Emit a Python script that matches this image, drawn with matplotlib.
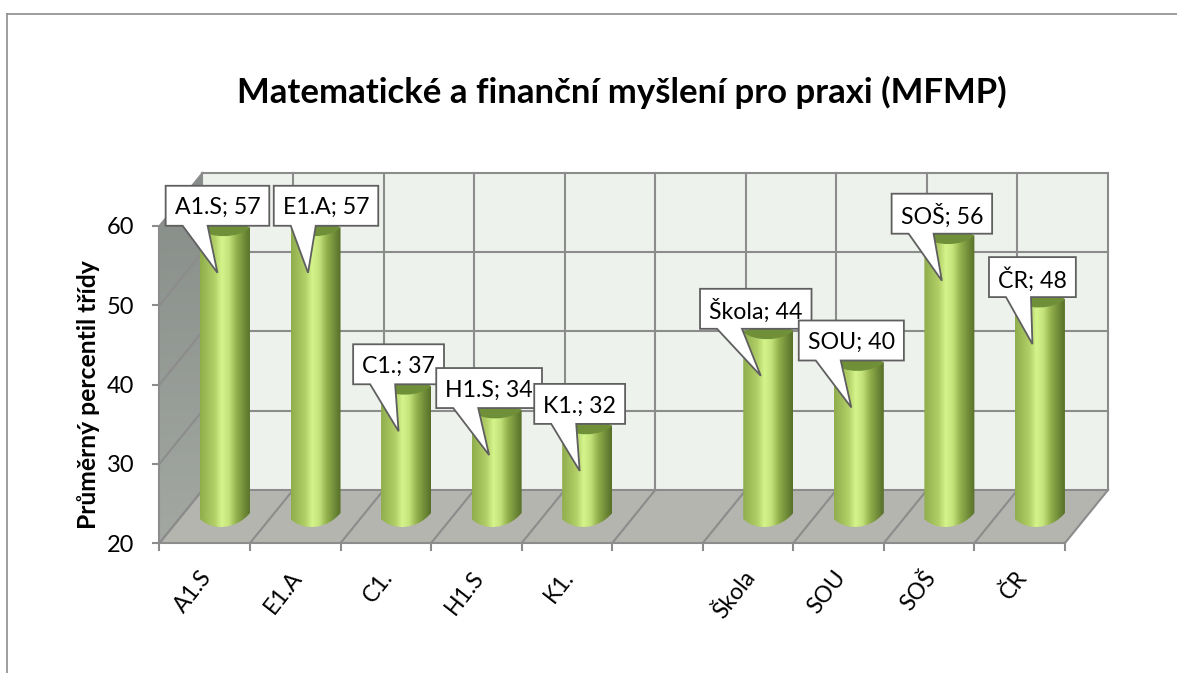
import matplotlib
matplotlib.use("Agg")
import matplotlib.pyplot as plt
from matplotlib.colors import LinearSegmentedColormap
from matplotlib.lines import Line2D
from matplotlib.patches import PathPatch, Polygon
from matplotlib.path import Path
from matplotlib.transforms import ScaledTranslation
import numpy as np

plt.rcParams['font.family'] = ['Lato', 'DejaVu Sans']

# the empty slot separates the classes from the school types
categories = ["A1.S", "E1.A", "C1.", "H1.S", "K1.", "", "Škola", "SOU", "SOŠ", "ČR"]
percentil = [57, 57, 37, 34, 32, np.nan, 44, 40, 56, 48]
yticks = [20, 30, 40, 50, 60]
title = "Matematické a finanční myšlení pro praxi (MFMP)"
ylabel = "Průměrný percentil třídy"

# pixels per data unit, used for the fake 3d offsets
W, H = 1177, 673
left, right, bottom, top = 159.5, 1065, 543, 226
sx = (right - left) / len(categories)
sy = (bottom - top) / (yticks[-1] - yticks[0])
dx = 43 / sx
dy = 53 / sy

fig = plt.figure(figsize=(W / 100, H / 100), dpi=100, facecolor="white")
ax = fig.add_axes([left / W, 1 - bottom / H, (right - left) / W, (bottom - top) / H])
ax.patch.set_visible(False)

line_col = "#8c8c8c"
n = len(categories)
y0, y1 = yticks[0], yticks[-1]


def gradient(colors, path, extent, z, horizontal=True):
    cmap = LinearSegmentedColormap.from_list("g", colors)
    ramp = np.linspace(0, 1, 256)
    ramp = ramp[None, :] if horizontal else ramp[:, None]
    im = ax.imshow(ramp, cmap=cmap, extent=extent, aspect="auto", zorder=z, origin="upper")
    im.set_clip_box(fig.bbox)
    im.set_clip_path(path, ax.transData)


# walls and floor
ax.add_patch(Polygon([(dx, y0 + dy), (n + dx, y0 + dy), (n + dx, y1 + dy), (dx, y1 + dy)],
                     fc="#eef2ec", ec="none", clip_on=False, zorder=1))
ax.add_patch(Polygon([(0, y0), (n, y0), (n + dx, y0 + dy), (dx, y0 + dy)],
                     fc="#b3b5ae", ec="none", clip_on=False, zorder=1))
side = Path([(0, y0), (dx, y0 + dy), (dx, y1 + dy), (0, y1), (0, y0)])
gradient(["#868c87", "#a3a8a3"], side, (0, dx, y0, y1 + dy), 1, horizontal=False)

lw = 1.5
for v in yticks:
    ax.plot([0, dx], [v, v + dy], color=line_col, lw=lw, clip_on=False, zorder=2)
    ax.plot([dx, n + dx], [v + dy, v + dy], color=line_col, lw=lw, clip_on=False, zorder=2)
for i in range(n + 1):
    ax.plot([i, i + dx], [y0, y0 + dy], color=line_col, lw=lw, clip_on=False, zorder=2)
    ax.plot([i + dx, i + dx], [y0 + dy, y1 + dy], color=line_col, lw=lw, clip_on=False, zorder=2)

# cylinders
body = ["#8fae4c", "#a0be59", "#b2cf67", "#d4f58c", "#c4e27a", "#94b24d", "#748f3a", "#566f29"]
lift = 19 / sy
shift = 0.5 + 0.223
hw = 25 / sx
for i, v in enumerate(percentil):
    if np.isnan(v):
        continue
    cx = i + shift
    xl, xr = cx - hw, cx + hw
    b = y0 + lift
    t = v + lift
    verts = [(xl, b + 5 / sy),
             (xl + 12 / sx, b - 7 / sy), (xr - 14 / sx, b - 6 / sy), (xr, b + 11 / sy),
             (xr, t + 3 / sy),
             (xr - 10 / sx, t + 9 / sy), (xl + 12 / sx, t + 9 / sy), (xl, t + 2 / sy),
             (xl, b + 5 / sy)]
    codes = [Path.MOVETO, Path.CURVE4, Path.CURVE4, Path.CURVE4, Path.LINETO,
             Path.CURVE4, Path.CURVE4, Path.CURVE4, Path.CLOSEPOLY]
    gradient(body, Path(verts, codes), (xl, xr, b - 6 / sy, t + 10 / sy), 3 + i)
    # dark top of the cylinder
    cap = [(xl, t + 2 / sy),
           (xl + 12 / sx, t + 9 / sy), (xr - 10 / sx, t + 9 / sy), (xr, t + 3 / sy),
           (xr - 12 / sx, t - 8 / sy), (xl + 10 / sx, t - 8 / sy), (xl, t + 2 / sy)]
    ccodes = [Path.MOVETO, Path.CURVE4, Path.CURVE4, Path.CURVE4,
              Path.CURVE4, Path.CURVE4, Path.CURVE4]
    ax.add_patch(PathPatch(Path(cap, ccodes), fc="#6f8f38", ec="none", clip_on=False, zorder=3 + i))

# axes
ax.set_xlim(0, n)
ax.set_ylim(y0, y1)
for s in ("top", "right"):
    ax.spines[s].set_visible(False)
for s in ("left", "bottom"):
    ax.spines[s].set_color(line_col)
    ax.spines[s].set_linewidth(lw)
    ax.spines[s].set_zorder(2)
ax.set_yticks(yticks)
ax.tick_params(axis="y", length=5, width=lw, color=line_col, labelsize=17, pad=13)
ax.set_xticks(np.arange(n) + 0.5)
ax.set_xticklabels(categories, rotation=52, ha="right", va="center", rotation_mode="anchor", fontsize=16.5)
ax.tick_params(axis="x", which="major", length=0, pad=22)
nudge = ScaledTranslation(3 / 100, 0, fig.dpi_scale_trans)
for lab in ax.get_xticklabels():
    lab.set_transform(lab.get_transform() + nudge)
ax.set_xticks(np.arange(n + 1), minor=True)
ax.tick_params(axis="x", which="minor", length=6, width=lw, color=line_col)
ax.set_ylabel(ylabel, fontsize=17.8, fontweight="bold")
ax.yaxis.set_label_coords((100 - left) / (right - left), (bottom - 395) / (bottom - top))

fig.text(621.5 / W, 1 - 92 / H, title, fontsize=25, fontweight="bold", ha="center", va="center")

# callouts with the value in them
label_shift = {"E1.A": 18, "Škola": -5}
renderer = fig.canvas.get_renderer()
for i, (c, v) in enumerate(zip(categories, percentil)):
    if np.isnan(v):
        continue
    tip_x = i + shift - 7.5 / sx
    tip_y = v + lift - 42 / sy
    box_bottom = tip_y + 47 / sy
    box_top = box_bottom + 40 / sy
    xc = tip_x + label_shift.get(c, 0) / sx
    txt = ax.text(xc, (box_bottom + box_top) / 2, f"{c}; {v}", fontsize=16.7, ha="center",
                  va="center_baseline", zorder=31 + i, clip_on=False)
    half = (txt.get_window_extent(renderer).width + 18) / 2 / sx
    l, r = xc - half, xc + half
    pts = [(l, box_bottom), (l + 17 / sx, box_bottom), (tip_x, tip_y), (l + 42 / sx, box_bottom),
           (r, box_bottom), (r, box_top), (l, box_top)]
    ax.add_patch(Polygon(pts, closed=True, fc="white", ec="#5f5f5f", lw=1.3, clip_on=False,
                         joinstyle="miter", zorder=30 + i))

# chart frame, only top and left are visible in the crop
fig.add_artist(Line2D([6.5 / W, 6.5 / W], [0, 1 - 14 / H], color=line_col, lw=1.2))
fig.add_artist(Line2D([6.5 / W, 1], [1 - 14 / H, 1 - 14 / H], color=line_col, lw=1.2))

fig.savefig("out.png", dpi=100)
